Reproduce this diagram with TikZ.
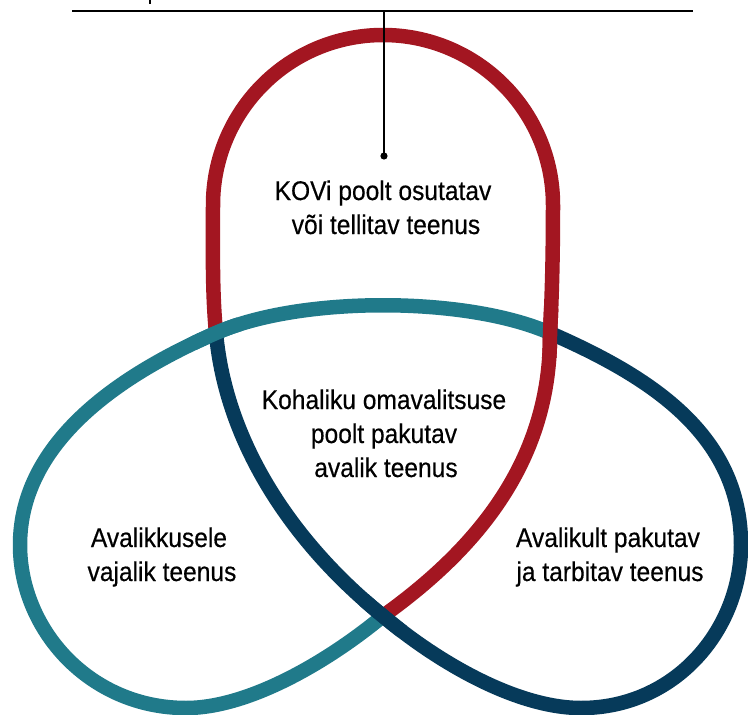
\documentclass[tikz,border=0pt]{standalone}
\usepackage{fontspec}
\setmainfont{Liberation Sans}[FakeStretch=0.91,FakeBold=0.4]
\definecolor{kred}{HTML}{A31621}
\definecolor{kteal}{HTML}{207A8A}
\definecolor{knavy}{HTML}{063A5A}
\begin{document}
\begin{tikzpicture}[x=1pt,y=-1pt,
  band/.style={line width=14.5pt, line cap=butt, line join=round},
  lbl/.style={font=\fontsize{27}{34}\selectfont, inner sep=0pt, anchor=base}]
\useasboundingbox (0,0) rectangle (748,715);

% crossings
\coordinate (L) at (216,333);
\coordinate (R) at (550,333);
\coordinate (B) at (383,616);

% red segment: L -> top -> R -> B
\newcommand{\redseg}{\draw[band,kred] (L) .. controls (212,290) and (213,250) .. (213,205)
   .. controls (213,111) and (289,35) .. (383,35)
   .. controls (477,35) and (553,111) .. (553,205)
   .. controls (553,255) and (552,295) .. (R)
   .. controls (551,460) and (478,548) .. (B);}
% teal segment: B -> left lobe -> L -> top arc -> R
\newcommand{\tealseg}{\draw[band,kteal] (B) .. controls (330,660) and (250,708) .. (186,708)
   .. controls (90,708) and (20,630) .. (20,545)
   .. controls (20,440) and (124,373) .. (L)
   .. controls (300,296) and (466,296) .. (R);}
% navy segment: R -> right lobe -> B -> L
\newcommand{\navyseg}{\draw[band,knavy] (R) .. controls (651,377) and (741,435) .. (741,545)
   .. controls (741,630) and (675,708) .. (581,708)
   .. controls (515,708) and (435,660) .. (B)
   .. controls (295,545) and (226,445) .. (L);}

\redseg
\tealseg
\navyseg
% over-crossings
\begin{scope}
  \clip (L) circle (26);
  \tealseg
\end{scope}
\begin{scope}
  \clip (R) circle (26);
  \redseg
\end{scope}
\begin{scope}
  \clip (B) circle (26);
  \navyseg
\end{scope}

% top rule and pointer
\coordinate (ruleL) at (72,11);
\coordinate (ruleR) at (693,11);
\coordinate (ruleM) at (384,11);
\coordinate (dot) at (384,156);
\coordinate (tickA) at (150,0);
\coordinate (tickB) at (150,4);
\draw[line width=2pt] (ruleL) -- (ruleR);
\draw[line width=2pt] (tickA) -- (tickB);
\draw[line width=1.6pt] (ruleM) -- (dot);
\fill (dot) circle (3.6);

% labels
\node[lbl] (t1a) at (383,200) {KOVi poolt osutatav};
\node[lbl] (t1b) at (386,234) {või tellitav teenus};
\node[lbl] (t2a) at (384,409) {Kohaliku omavalitsuse};
\node[lbl] (t2b) at (384,443) {poolt pakutav};
\node[lbl] (t2c) at (386,477) {avalik teenus};
\node[lbl] (t3a) at (159,547) {Avalikkusele};
\node[lbl] (t3b) at (162,581) {vajalik teenus};
\node[lbl] (t4a) at (608,547) {Avalikult pakutav};
\node[lbl] (t4b) at (610,581) {ja tarbitav teenus};
\end{tikzpicture}
\end{document}
